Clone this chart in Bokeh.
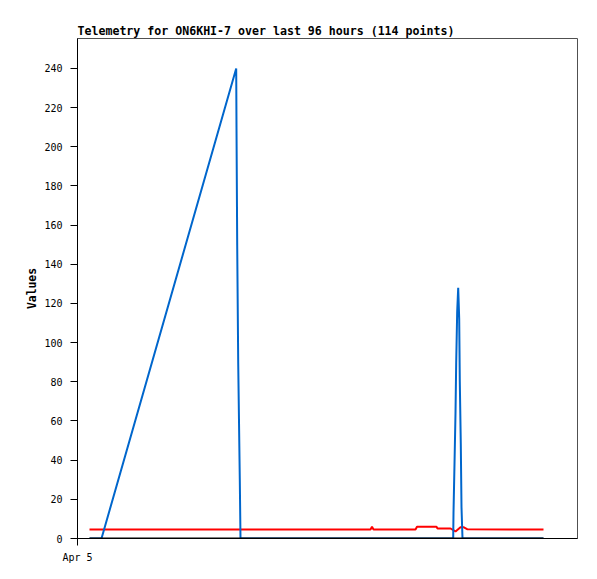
from bokeh.plotting import figure
from bokeh.models import Range1d, FixedTicker, Title
from bokeh.embed import file_html
from bokeh.resources import INLINE

# hours since start of window
blue_h = [2.4, 4.8, 31.74, 31.8, 31.94, 32.14, 32.46, 32.6, 75.14, 75.2, 75.4, 75.6, 75.74, 75.94,
          76.14, 76.34, 76.46, 76.66, 76.8, 77.0, 93.2]
blue_v = [0, 0, 240, 210, 150, 90, 30, 0, 0, 13, 38, 64, 90, 116, 128, 112, 80, 48, 16, 0, 0]

red_h = [2.4, 58.6, 58.9, 59.2, 67.6, 67.9, 71.8, 72.0, 74.6, 75.6, 76.6, 77.2, 78.0, 93.2]
red_v = [4.6, 4.6, 6.0, 4.6, 4.6, 6.0, 6.0, 5.1, 5.1, 3.6, 5.8, 5.8, 4.7, 4.6]

black_h = [2.4, 93.2]
black_v = [0, 0]

y_ticks = [0, 20, 40, 60, 80, 100, 120, 140, 160, 180, 200, 220, 240]
x_ticks = [0]
x_tick_labels = {0: "Apr 5"}

title_text = "Telemetry for ON6KHI-7 over last 96 hours (114 points)"

p = figure(frame_width=500, frame_height=500, output_backend="svg", toolbar_location=None,
           x_range=Range1d(0, 100), y_range=Range1d(0, 255.3),
           min_border_left=77, min_border_top=38, min_border_right=12, min_border_bottom=33,
           title=None)

t = Title(text=title_text, align="left", text_font="DejaVu Sans Mono", text_font_style="bold",
          text_font_size="11.6px", text_color="black", standoff=1)
p.add_layout(t, "above")

p.background_fill_color = "white"
p.border_fill_color = "white"
p.outline_line_color = "#505050"
p.outline_line_width = 1
p.grid.visible = False

p.line(red_h, red_v, line_color="#FF0000", line_width=2)
p.line(blue_h, blue_v, line_color="#0066CC", line_width=2)
p.line(black_h, black_v, line_color="#000000", line_width=2)

p.yaxis.ticker = FixedTicker(ticks=y_ticks)
p.xaxis.ticker = FixedTicker(ticks=x_ticks)
p.xaxis.major_label_overrides = x_tick_labels
for ax in (p.xaxis[0], p.yaxis[0]):
    ax.axis_line_color = "black"
    ax.major_tick_line_color = "black"
    ax.major_tick_out = 7
    ax.major_tick_in = 0
    ax.minor_tick_line_color = None
    ax.major_label_text_font = "DejaVu Sans Mono"
    ax.major_label_text_font_size = "10px"
    ax.major_label_text_color = "black"
p.xaxis.major_label_standoff = 6
p.yaxis.major_label_standoff = 8

p.yaxis.axis_label = "Values"
p.yaxis.axis_label_text_font = "DejaVu Sans Mono"
p.yaxis.axis_label_text_font_style = "bold"
p.yaxis.axis_label_text_font_size = "11.4px"
p.yaxis.axis_label_text_color = "black"
p.yaxis.axis_label_standoff = 2

open("out.html", "w").write(file_html(p, INLINE))
